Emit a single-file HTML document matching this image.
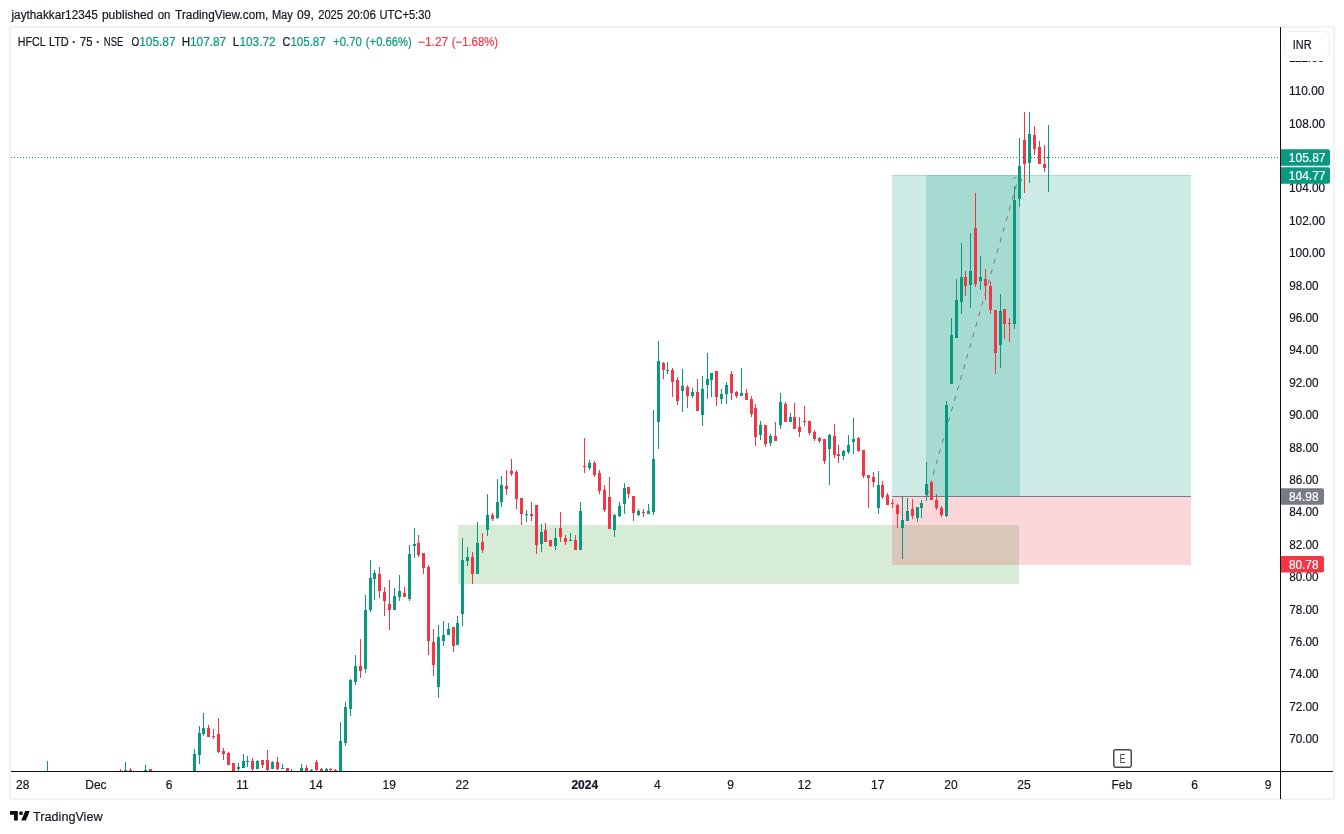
<!DOCTYPE html>
<html><head><meta charset="utf-8"><title>HFCL LTD chart</title>
<style>
html,body{margin:0;padding:0;background:#fff;width:1344px;height:834px;overflow:hidden}
svg{display:block;will-change:transform}
text{font-family:"Liberation Sans",Arial,sans-serif}
</style></head><body>
<svg width="1344" height="834" viewBox="0 0 1344 834">
<rect width="1344" height="834" fill="#fff"/>
<text x="11.48" y="18.8" font-size="12" fill="#131722" stroke="#131722" stroke-width="0.2" textLength="86.38" lengthAdjust="spacingAndGlyphs">jaythakkar12345</text><text x="101.90" y="18.8" font-size="12" fill="#131722" stroke="#131722" stroke-width="0.2" textLength="51.58" lengthAdjust="spacingAndGlyphs">published</text><text x="157.80" y="18.8" font-size="12" fill="#131722" stroke="#131722" stroke-width="0.2" textLength="12.64" lengthAdjust="spacingAndGlyphs">on</text><text x="175.10" y="18.8" font-size="12" fill="#131722" stroke="#131722" stroke-width="0.2" textLength="93.31" lengthAdjust="spacingAndGlyphs">TradingView.com,</text><text x="271.88" y="18.8" font-size="12" fill="#131722" stroke="#131722" stroke-width="0.2" textLength="20.92" lengthAdjust="spacingAndGlyphs">May</text><text x="297.10" y="18.8" font-size="12" fill="#131722" stroke="#131722" stroke-width="0.2" textLength="16.79" lengthAdjust="spacingAndGlyphs">09,</text><text x="318.20" y="18.8" font-size="12" fill="#131722" stroke="#131722" stroke-width="0.2" textLength="24.85" lengthAdjust="spacingAndGlyphs">2025</text><text x="346.90" y="18.8" font-size="12" fill="#131722" stroke="#131722" stroke-width="0.2" textLength="29.03" lengthAdjust="spacingAndGlyphs">20:06</text><text x="379.47" y="18.8" font-size="12" fill="#131722" stroke="#131722" stroke-width="0.2" textLength="51.16" lengthAdjust="spacingAndGlyphs">UTC+5:30</text>
<rect x="10" y="27" width="1324" height="772" fill="none" stroke="#f2f2f2" stroke-width="2"/>
<defs><clipPath id="pane"><rect x="11" y="28" width="1269" height="743"/></clipPath></defs>
<g clip-path="url(#pane)" shape-rendering="crispEdges">
<rect x="458" y="525" width="561" height="59" fill="rgb(76,175,80)" fill-opacity="0.23"/>
<rect x="892" y="175" width="299" height="321" fill="rgb(8,153,129)" fill-opacity="0.2"/>
<rect x="926" y="175" width="94" height="321" fill="rgb(8,153,129)" fill-opacity="0.2"/>
<rect x="892" y="496" width="299" height="68.5" fill="rgb(242,54,69)" fill-opacity="0.2"/>
<rect x="892" y="175" width="299" height="1" fill="rgb(8,153,129)" fill-opacity="0.2"/>
<rect x="892" y="496" width="299" height="1" fill="#787b86"/>
</g>
<g clip-path="url(#pane)"><line x1="927" y1="496" x2="1019.2" y2="175.5" stroke="#787b86" stroke-width="1" stroke-dasharray="5 6"/>
<path d="M1013.5 178.6 L1019.2 175.5 L1022.1 181.2" fill="none" stroke="#787b86" stroke-width="1" stroke-dasharray="3 2"/>
<line x1="11" y1="157.5" x2="1280" y2="157.5" stroke="#089981" stroke-width="1" stroke-dasharray="1 2"/>
</g>
<g clip-path="url(#pane)" shape-rendering="crispEdges">
<rect x="47" y="761" width="1" height="24" fill="#089981"/><rect x="46" y="772" width="3" height="8" fill="#089981"/>
<rect x="120" y="769" width="1" height="16" fill="#f23645"/><rect x="119" y="772" width="3" height="8" fill="#f23645"/>
<rect x="125" y="762" width="1" height="13" fill="#089981"/><rect x="124" y="770" width="3" height="5" fill="#089981"/>
<rect x="130" y="768" width="1" height="7" fill="#f23645"/><rect x="129" y="770" width="3" height="5" fill="#f23645"/>
<rect x="145" y="765" width="1" height="10" fill="#089981"/><rect x="144" y="770" width="3" height="5" fill="#089981"/>
<rect x="150" y="769" width="1" height="6" fill="#f23645"/><rect x="149" y="769" width="3" height="6" fill="#f23645"/>
<rect x="194" y="749" width="1" height="26" fill="#089981"/><rect x="193" y="754" width="3" height="21" fill="#089981"/>
<rect x="199" y="726" width="1" height="38" fill="#089981"/><rect x="198" y="733" width="3" height="22" fill="#089981"/>
<rect x="203" y="713" width="1" height="23" fill="#089981"/><rect x="202" y="728" width="3" height="6" fill="#089981"/>
<rect x="208" y="725" width="1" height="12" fill="#f23645"/><rect x="207" y="728" width="3" height="9" fill="#f23645"/>
<rect x="213" y="729" width="1" height="10" fill="#f23645"/><rect x="212" y="736" width="3" height="1" fill="#f23645"/>
<rect x="218" y="718" width="1" height="35" fill="#f23645"/><rect x="217" y="734" width="3" height="18" fill="#f23645"/>
<rect x="223" y="748" width="1" height="12" fill="#f23645"/><rect x="222" y="751" width="3" height="3" fill="#f23645"/>
<rect x="228" y="752" width="1" height="13" fill="#f23645"/><rect x="227" y="753" width="3" height="12" fill="#f23645"/>
<rect x="233" y="763" width="1" height="12" fill="#f23645"/><rect x="232" y="763" width="3" height="12" fill="#f23645"/>
<rect x="238" y="763" width="1" height="12" fill="#089981"/><rect x="237" y="767" width="3" height="2" fill="#089981"/>
<rect x="243" y="754" width="1" height="14" fill="#089981"/><rect x="242" y="761" width="3" height="7" fill="#089981"/>
<rect x="247" y="756" width="1" height="11" fill="#089981"/><rect x="246" y="761" width="3" height="1" fill="#089981"/>
<rect x="252" y="758" width="1" height="17" fill="#f23645"/><rect x="251" y="761" width="3" height="8" fill="#f23645"/>
<rect x="257" y="760" width="1" height="9" fill="#089981"/><rect x="256" y="761" width="3" height="8" fill="#089981"/>
<rect x="262" y="760" width="1" height="8" fill="#f23645"/><rect x="261" y="760" width="3" height="5" fill="#f23645"/>
<rect x="267" y="750" width="1" height="21" fill="#f23645"/><rect x="266" y="760" width="3" height="10" fill="#f23645"/>
<rect x="272" y="761" width="1" height="8" fill="#089981"/><rect x="271" y="762" width="3" height="7" fill="#089981"/>
<rect x="277" y="757" width="1" height="13" fill="#f23645"/><rect x="276" y="762" width="3" height="7" fill="#f23645"/>
<rect x="282" y="764" width="1" height="5" fill="#089981"/><rect x="281" y="768" width="3" height="1" fill="#089981"/>
<rect x="287" y="768" width="1" height="7" fill="#f23645"/><rect x="286" y="768" width="3" height="7" fill="#f23645"/>
<rect x="291" y="769" width="1" height="6" fill="#089981"/><rect x="290" y="772" width="3" height="3" fill="#089981"/>
<rect x="301" y="764" width="1" height="11" fill="#089981"/><rect x="300" y="768" width="3" height="7" fill="#089981"/>
<rect x="306" y="765" width="1" height="10" fill="#f23645"/><rect x="305" y="768" width="3" height="7" fill="#f23645"/>
<rect x="311" y="769" width="1" height="6" fill="#089981"/><rect x="310" y="770" width="3" height="5" fill="#089981"/>
<rect x="316" y="760" width="1" height="15" fill="#f23645"/><rect x="315" y="762" width="3" height="8" fill="#f23645"/>
<rect x="321" y="768" width="1" height="7" fill="#f23645"/><rect x="320" y="769" width="3" height="6" fill="#f23645"/>
<rect x="326" y="768" width="1" height="7" fill="#089981"/><rect x="325" y="769" width="3" height="6" fill="#089981"/>
<rect x="330" y="768" width="1" height="3" fill="#f23645"/><rect x="329" y="769" width="3" height="1" fill="#f23645"/>
<rect x="335" y="769" width="1" height="6" fill="#f23645"/><rect x="334" y="770" width="3" height="5" fill="#f23645"/>
<rect x="340" y="722" width="1" height="53" fill="#089981"/><rect x="339" y="741" width="3" height="34" fill="#089981"/>
<rect x="345" y="702" width="1" height="44" fill="#089981"/><rect x="344" y="707" width="3" height="36" fill="#089981"/>
<rect x="350" y="679" width="1" height="37" fill="#089981"/><rect x="349" y="680" width="3" height="29" fill="#089981"/>
<rect x="355" y="655" width="1" height="30" fill="#089981"/><rect x="354" y="666" width="3" height="16" fill="#089981"/>
<rect x="360" y="639" width="1" height="39" fill="#f23645"/><rect x="359" y="666" width="3" height="5" fill="#f23645"/>
<rect x="365" y="595" width="1" height="78" fill="#089981"/><rect x="364" y="610" width="3" height="59" fill="#089981"/>
<rect x="370" y="560" width="1" height="52" fill="#089981"/><rect x="369" y="578" width="3" height="32" fill="#089981"/>
<rect x="374" y="570" width="1" height="30" fill="#089981"/><rect x="373" y="573" width="3" height="6" fill="#089981"/>
<rect x="379" y="567" width="1" height="31" fill="#f23645"/><rect x="378" y="574" width="3" height="17" fill="#f23645"/>
<rect x="384" y="587" width="1" height="29" fill="#f23645"/><rect x="383" y="592" width="3" height="9" fill="#f23645"/>
<rect x="389" y="580" width="1" height="50" fill="#f23645"/><rect x="388" y="604" width="3" height="6" fill="#f23645"/>
<rect x="394" y="588" width="1" height="22" fill="#089981"/><rect x="393" y="596" width="3" height="14" fill="#089981"/>
<rect x="399" y="575" width="1" height="26" fill="#089981"/><rect x="398" y="591" width="3" height="6" fill="#089981"/>
<rect x="404" y="587" width="1" height="10" fill="#f23645"/><rect x="403" y="593" width="3" height="4" fill="#f23645"/>
<rect x="409" y="545" width="1" height="56" fill="#089981"/><rect x="408" y="554" width="3" height="45" fill="#089981"/>
<rect x="414" y="528" width="1" height="30" fill="#089981"/><rect x="413" y="544" width="3" height="2" fill="#089981"/>
<rect x="418" y="535" width="1" height="22" fill="#f23645"/><rect x="417" y="543" width="3" height="12" fill="#f23645"/>
<rect x="423" y="553" width="1" height="21" fill="#f23645"/><rect x="422" y="553" width="3" height="15" fill="#f23645"/>
<rect x="428" y="565" width="1" height="90" fill="#f23645"/><rect x="427" y="567" width="3" height="74" fill="#f23645"/>
<rect x="433" y="629" width="1" height="47" fill="#f23645"/><rect x="432" y="642" width="3" height="23" fill="#f23645"/>
<rect x="438" y="625" width="1" height="73" fill="#089981"/><rect x="437" y="637" width="3" height="50" fill="#089981"/>
<rect x="443" y="621" width="1" height="25" fill="#089981"/><rect x="442" y="635" width="3" height="6" fill="#089981"/>
<rect x="448" y="623" width="1" height="12" fill="#089981"/><rect x="447" y="629" width="3" height="6" fill="#089981"/>
<rect x="453" y="627" width="1" height="25" fill="#f23645"/><rect x="452" y="627" width="3" height="19" fill="#f23645"/>
<rect x="457" y="616" width="1" height="29" fill="#089981"/><rect x="456" y="623" width="3" height="22" fill="#089981"/>
<rect x="462" y="538" width="1" height="88" fill="#089981"/><rect x="461" y="560" width="3" height="54" fill="#089981"/>
<rect x="467" y="547" width="1" height="19" fill="#089981"/><rect x="466" y="557" width="3" height="4" fill="#089981"/>
<rect x="472" y="552" width="1" height="32" fill="#f23645"/><rect x="471" y="557" width="3" height="17" fill="#f23645"/>
<rect x="477" y="522" width="1" height="52" fill="#089981"/><rect x="476" y="543" width="3" height="31" fill="#089981"/>
<rect x="482" y="533" width="1" height="20" fill="#f23645"/><rect x="481" y="542" width="3" height="8" fill="#f23645"/>
<rect x="487" y="494" width="1" height="42" fill="#089981"/><rect x="486" y="515" width="3" height="15" fill="#089981"/>
<rect x="492" y="513" width="1" height="8" fill="#f23645"/><rect x="491" y="515" width="3" height="4" fill="#f23645"/>
<rect x="497" y="479" width="1" height="40" fill="#089981"/><rect x="496" y="502" width="3" height="16" fill="#089981"/>
<rect x="501" y="476" width="1" height="31" fill="#089981"/><rect x="500" y="485" width="3" height="17" fill="#089981"/>
<rect x="506" y="470" width="1" height="25" fill="#f23645"/><rect x="505" y="486" width="3" height="3" fill="#f23645"/>
<rect x="511" y="459" width="1" height="17" fill="#f23645"/><rect x="510" y="471" width="3" height="3" fill="#f23645"/>
<rect x="516" y="470" width="1" height="39" fill="#f23645"/><rect x="515" y="472" width="3" height="27" fill="#f23645"/>
<rect x="521" y="498" width="1" height="27" fill="#f23645"/><rect x="520" y="498" width="3" height="16" fill="#f23645"/>
<rect x="526" y="510" width="1" height="12" fill="#089981"/><rect x="525" y="514" width="3" height="1" fill="#089981"/>
<rect x="531" y="502" width="1" height="19" fill="#f23645"/><rect x="530" y="514" width="3" height="2" fill="#f23645"/>
<rect x="536" y="505" width="1" height="49" fill="#f23645"/><rect x="535" y="505" width="3" height="40" fill="#f23645"/>
<rect x="541" y="524" width="1" height="28" fill="#089981"/><rect x="540" y="532" width="3" height="12" fill="#089981"/>
<rect x="545" y="523" width="1" height="19" fill="#f23645"/><rect x="544" y="530" width="3" height="12" fill="#f23645"/>
<rect x="550" y="540" width="1" height="7" fill="#f23645"/><rect x="549" y="540" width="3" height="6" fill="#f23645"/>
<rect x="555" y="528" width="1" height="22" fill="#089981"/><rect x="554" y="538" width="3" height="8" fill="#089981"/>
<rect x="560" y="512" width="1" height="30" fill="#f23645"/><rect x="559" y="528" width="3" height="9" fill="#f23645"/>
<rect x="565" y="535" width="1" height="10" fill="#f23645"/><rect x="564" y="538" width="3" height="4" fill="#f23645"/>
<rect x="570" y="533" width="1" height="8" fill="#089981"/><rect x="569" y="540" width="3" height="1" fill="#089981"/>
<rect x="575" y="535" width="1" height="15" fill="#f23645"/><rect x="574" y="540" width="3" height="10" fill="#f23645"/>
<rect x="580" y="502" width="1" height="48" fill="#089981"/><rect x="579" y="511" width="3" height="39" fill="#089981"/>
<rect x="584" y="438" width="1" height="35" fill="#f23645"/><rect x="583" y="466" width="3" height="1" fill="#f23645"/>
<rect x="589" y="460" width="1" height="10" fill="#089981"/><rect x="588" y="463" width="3" height="5" fill="#089981"/>
<rect x="594" y="461" width="1" height="16" fill="#f23645"/><rect x="593" y="463" width="3" height="12" fill="#f23645"/>
<rect x="599" y="470" width="1" height="24" fill="#f23645"/><rect x="598" y="473" width="3" height="18" fill="#f23645"/>
<rect x="604" y="485" width="1" height="27" fill="#f23645"/><rect x="603" y="490" width="3" height="20" fill="#f23645"/>
<rect x="609" y="477" width="1" height="52" fill="#f23645"/><rect x="608" y="497" width="3" height="32" fill="#f23645"/>
<rect x="614" y="514" width="1" height="23" fill="#089981"/><rect x="613" y="515" width="3" height="15" fill="#089981"/>
<rect x="619" y="502" width="1" height="15" fill="#089981"/><rect x="618" y="506" width="3" height="10" fill="#089981"/>
<rect x="624" y="483" width="1" height="31" fill="#089981"/><rect x="623" y="488" width="3" height="16" fill="#089981"/>
<rect x="628" y="487" width="1" height="11" fill="#f23645"/><rect x="627" y="487" width="3" height="7" fill="#f23645"/>
<rect x="633" y="496" width="1" height="25" fill="#f23645"/><rect x="632" y="496" width="3" height="17" fill="#f23645"/>
<rect x="638" y="509" width="1" height="7" fill="#089981"/><rect x="637" y="511" width="3" height="4" fill="#089981"/>
<rect x="643" y="509" width="1" height="8" fill="#f23645"/><rect x="642" y="512" width="3" height="1" fill="#f23645"/>
<rect x="648" y="504" width="1" height="10" fill="#089981"/><rect x="647" y="511" width="3" height="3" fill="#089981"/>
<rect x="653" y="410" width="1" height="105" fill="#089981"/><rect x="652" y="459" width="3" height="53" fill="#089981"/>
<rect x="658" y="341" width="1" height="108" fill="#089981"/><rect x="657" y="361" width="3" height="61" fill="#089981"/>
<rect x="663" y="362" width="1" height="17" fill="#f23645"/><rect x="662" y="363" width="3" height="7" fill="#f23645"/>
<rect x="667" y="362" width="1" height="12" fill="#089981"/><rect x="666" y="370" width="3" height="1" fill="#089981"/>
<rect x="672" y="368" width="1" height="29" fill="#f23645"/><rect x="671" y="370" width="3" height="12" fill="#f23645"/>
<rect x="677" y="377" width="1" height="28" fill="#f23645"/><rect x="676" y="380" width="3" height="21" fill="#f23645"/>
<rect x="682" y="369" width="1" height="43" fill="#089981"/><rect x="681" y="386" width="3" height="5" fill="#089981"/>
<rect x="687" y="385" width="1" height="23" fill="#f23645"/><rect x="686" y="387" width="3" height="9" fill="#f23645"/>
<rect x="692" y="388" width="1" height="10" fill="#089981"/><rect x="691" y="392" width="3" height="4" fill="#089981"/>
<rect x="697" y="379" width="1" height="32" fill="#f23645"/><rect x="696" y="392" width="3" height="19" fill="#f23645"/>
<rect x="702" y="376" width="1" height="50" fill="#089981"/><rect x="701" y="389" width="3" height="26" fill="#089981"/>
<rect x="707" y="353" width="1" height="46" fill="#089981"/><rect x="706" y="379" width="3" height="6" fill="#089981"/>
<rect x="711" y="373" width="1" height="24" fill="#089981"/><rect x="710" y="373" width="3" height="7" fill="#089981"/>
<rect x="716" y="371" width="1" height="35" fill="#f23645"/><rect x="715" y="371" width="3" height="26" fill="#f23645"/>
<rect x="721" y="389" width="1" height="15" fill="#089981"/><rect x="720" y="394" width="3" height="5" fill="#089981"/>
<rect x="726" y="382" width="1" height="22" fill="#089981"/><rect x="725" y="385" width="3" height="9" fill="#089981"/>
<rect x="731" y="371" width="1" height="29" fill="#f23645"/><rect x="730" y="374" width="3" height="19" fill="#f23645"/>
<rect x="736" y="391" width="1" height="7" fill="#f23645"/><rect x="735" y="392" width="3" height="4" fill="#f23645"/>
<rect x="741" y="368" width="1" height="28" fill="#089981"/><rect x="740" y="393" width="3" height="3" fill="#089981"/>
<rect x="746" y="389" width="1" height="11" fill="#f23645"/><rect x="745" y="393" width="3" height="7" fill="#f23645"/>
<rect x="751" y="396" width="1" height="21" fill="#f23645"/><rect x="750" y="399" width="3" height="15" fill="#f23645"/>
<rect x="755" y="404" width="1" height="42" fill="#f23645"/><rect x="754" y="408" width="3" height="29" fill="#f23645"/>
<rect x="760" y="421" width="1" height="19" fill="#089981"/><rect x="759" y="425" width="3" height="10" fill="#089981"/>
<rect x="765" y="425" width="1" height="22" fill="#f23645"/><rect x="764" y="425" width="3" height="19" fill="#f23645"/>
<rect x="770" y="434" width="1" height="12" fill="#089981"/><rect x="769" y="436" width="3" height="7" fill="#089981"/>
<rect x="775" y="422" width="1" height="19" fill="#f23645"/><rect x="774" y="436" width="3" height="5" fill="#f23645"/>
<rect x="780" y="393" width="1" height="36" fill="#089981"/><rect x="779" y="402" width="3" height="23" fill="#089981"/>
<rect x="785" y="402" width="1" height="20" fill="#f23645"/><rect x="784" y="404" width="3" height="18" fill="#f23645"/>
<rect x="790" y="413" width="1" height="9" fill="#089981"/><rect x="789" y="417" width="3" height="5" fill="#089981"/>
<rect x="794" y="403" width="1" height="26" fill="#f23645"/><rect x="793" y="417" width="3" height="12" fill="#f23645"/>
<rect x="799" y="417" width="1" height="20" fill="#f23645"/><rect x="798" y="427" width="3" height="5" fill="#f23645"/>
<rect x="804" y="406" width="1" height="20" fill="#f23645"/><rect x="803" y="421" width="3" height="1" fill="#f23645"/>
<rect x="809" y="421" width="1" height="14" fill="#f23645"/><rect x="808" y="421" width="3" height="12" fill="#f23645"/>
<rect x="814" y="430" width="1" height="11" fill="#f23645"/><rect x="813" y="432" width="3" height="7" fill="#f23645"/>
<rect x="819" y="437" width="1" height="6" fill="#f23645"/><rect x="818" y="438" width="3" height="3" fill="#f23645"/>
<rect x="824" y="439" width="1" height="25" fill="#f23645"/><rect x="823" y="439" width="3" height="22" fill="#f23645"/>
<rect x="829" y="434" width="1" height="51" fill="#089981"/><rect x="828" y="435" width="3" height="14" fill="#089981"/>
<rect x="834" y="424" width="1" height="34" fill="#f23645"/><rect x="833" y="436" width="3" height="19" fill="#f23645"/>
<rect x="838" y="445" width="1" height="18" fill="#f23645"/><rect x="837" y="454" width="3" height="2" fill="#f23645"/>
<rect x="843" y="450" width="1" height="10" fill="#089981"/><rect x="842" y="451" width="3" height="5" fill="#089981"/>
<rect x="848" y="435" width="1" height="19" fill="#089981"/><rect x="847" y="445" width="3" height="7" fill="#089981"/>
<rect x="853" y="418" width="1" height="36" fill="#089981"/><rect x="852" y="439" width="3" height="3" fill="#089981"/>
<rect x="858" y="437" width="1" height="15" fill="#f23645"/><rect x="857" y="438" width="3" height="13" fill="#f23645"/>
<rect x="863" y="450" width="1" height="28" fill="#f23645"/><rect x="862" y="450" width="3" height="26" fill="#f23645"/>
<rect x="868" y="475" width="1" height="33" fill="#f23645"/><rect x="867" y="475" width="3" height="3" fill="#f23645"/>
<rect x="873" y="472" width="1" height="15" fill="#f23645"/><rect x="872" y="477" width="3" height="5" fill="#f23645"/>
<rect x="878" y="471" width="1" height="43" fill="#089981"/><rect x="877" y="485" width="3" height="23" fill="#089981"/>
<rect x="882" y="481" width="1" height="18" fill="#f23645"/><rect x="881" y="485" width="3" height="12" fill="#f23645"/>
<rect x="887" y="493" width="1" height="12" fill="#f23645"/><rect x="886" y="495" width="3" height="10" fill="#f23645"/>
<rect x="892" y="499" width="1" height="9" fill="#f23645"/><rect x="891" y="503" width="3" height="1" fill="#f23645"/>
<rect x="897" y="504" width="1" height="24" fill="#f23645"/><rect x="896" y="505" width="3" height="9" fill="#f23645"/>
<rect x="902" y="497" width="1" height="62" fill="#089981"/><rect x="901" y="520" width="3" height="8" fill="#089981"/>
<rect x="907" y="498" width="1" height="23" fill="#089981"/><rect x="906" y="511" width="3" height="10" fill="#089981"/>
<rect x="912" y="499" width="1" height="20" fill="#f23645"/><rect x="911" y="509" width="3" height="7" fill="#f23645"/>
<rect x="917" y="507" width="1" height="15" fill="#089981"/><rect x="916" y="507" width="3" height="11" fill="#089981"/>
<rect x="921" y="500" width="1" height="18" fill="#089981"/><rect x="920" y="503" width="3" height="5" fill="#089981"/>
<rect x="926" y="462" width="1" height="39" fill="#089981"/><rect x="925" y="484" width="3" height="11" fill="#089981"/>
<rect x="931" y="481" width="1" height="19" fill="#f23645"/><rect x="930" y="482" width="3" height="18" fill="#f23645"/>
<rect x="936" y="494" width="1" height="16" fill="#f23645"/><rect x="935" y="500" width="3" height="8" fill="#f23645"/>
<rect x="941" y="506" width="1" height="11" fill="#f23645"/><rect x="940" y="508" width="3" height="7" fill="#f23645"/>
<rect x="946" y="401" width="1" height="116" fill="#089981"/><rect x="945" y="405" width="3" height="111" fill="#089981"/>
<rect x="951" y="318" width="1" height="66" fill="#089981"/><rect x="950" y="335" width="3" height="49" fill="#089981"/>
<rect x="956" y="279" width="1" height="59" fill="#089981"/><rect x="955" y="300" width="3" height="38" fill="#089981"/>
<rect x="961" y="243" width="1" height="71" fill="#089981"/><rect x="960" y="277" width="3" height="25" fill="#089981"/>
<rect x="965" y="271" width="1" height="25" fill="#f23645"/><rect x="964" y="277" width="3" height="9" fill="#f23645"/>
<rect x="970" y="233" width="1" height="75" fill="#089981"/><rect x="969" y="271" width="3" height="14" fill="#089981"/>
<rect x="975" y="193" width="1" height="94" fill="#f23645"/><rect x="974" y="228" width="3" height="56" fill="#f23645"/>
<rect x="980" y="256" width="1" height="34" fill="#089981"/><rect x="979" y="277" width="3" height="4" fill="#089981"/>
<rect x="985" y="269" width="1" height="31" fill="#f23645"/><rect x="984" y="279" width="3" height="7" fill="#f23645"/>
<rect x="990" y="281" width="1" height="33" fill="#f23645"/><rect x="989" y="286" width="3" height="24" fill="#f23645"/>
<rect x="995" y="310" width="1" height="64" fill="#f23645"/><rect x="994" y="310" width="3" height="43" fill="#f23645"/>
<rect x="1000" y="294" width="1" height="74" fill="#089981"/><rect x="999" y="311" width="3" height="34" fill="#089981"/>
<rect x="1004" y="309" width="1" height="30" fill="#f23645"/><rect x="1003" y="309" width="3" height="15" fill="#f23645"/>
<rect x="1009" y="318" width="1" height="24" fill="#f23645"/><rect x="1008" y="323" width="3" height="1" fill="#f23645"/>
<rect x="1014" y="186" width="1" height="143" fill="#089981"/><rect x="1013" y="200" width="3" height="124" fill="#089981"/>
<rect x="1019" y="138" width="1" height="69" fill="#089981"/><rect x="1018" y="166" width="3" height="33" fill="#089981"/>
<rect x="1024" y="112" width="1" height="81" fill="#f23645"/><rect x="1023" y="140" width="3" height="24" fill="#f23645"/>
<rect x="1029" y="112" width="1" height="71" fill="#089981"/><rect x="1028" y="134" width="3" height="29" fill="#089981"/>
<rect x="1034" y="126" width="1" height="29" fill="#f23645"/><rect x="1033" y="135" width="3" height="14" fill="#f23645"/>
<rect x="1039" y="141" width="1" height="23" fill="#f23645"/><rect x="1038" y="147" width="3" height="17" fill="#f23645"/>
<rect x="1044" y="145" width="1" height="27" fill="#f23645"/><rect x="1043" y="164" width="3" height="4" fill="#f23645"/>
<rect x="1048" y="125" width="1" height="67" fill="#089981"/><rect x="1047" y="157" width="3" height="1" fill="#089981"/>
</g>
<rect x="1113.75" y="749.75" width="17.5" height="17.5" rx="2" fill="#fff" stroke="#4a4a4a" stroke-width="1.5"/>
<text x="1119.6" y="763" font-size="12" fill="#4a4a4a" textLength="6" lengthAdjust="spacingAndGlyphs">E</text>
<rect x="11" y="771" width="1322" height="1" fill="#111" shape-rendering="crispEdges"/>
<rect x="1280" y="27" width="1" height="772" fill="#111" shape-rendering="crispEdges"/>
<text x="1289.20" y="743.1" font-size="12" fill="#131722" stroke="#131722" stroke-width="0.2" textLength="29.43" lengthAdjust="spacingAndGlyphs">70.00</text><text x="1289.20" y="710.7" font-size="12" fill="#131722" stroke="#131722" stroke-width="0.2" textLength="29.43" lengthAdjust="spacingAndGlyphs">72.00</text><text x="1289.20" y="678.3" font-size="12" fill="#131722" stroke="#131722" stroke-width="0.2" textLength="29.43" lengthAdjust="spacingAndGlyphs">74.00</text><text x="1289.20" y="645.9" font-size="12" fill="#131722" stroke="#131722" stroke-width="0.2" textLength="29.43" lengthAdjust="spacingAndGlyphs">76.00</text><text x="1289.20" y="613.5" font-size="12" fill="#131722" stroke="#131722" stroke-width="0.2" textLength="29.43" lengthAdjust="spacingAndGlyphs">78.00</text><text x="1289.20" y="581.1" font-size="12" fill="#131722" stroke="#131722" stroke-width="0.2" textLength="29.43" lengthAdjust="spacingAndGlyphs">80.00</text><text x="1289.20" y="548.7" font-size="12" fill="#131722" stroke="#131722" stroke-width="0.2" textLength="29.43" lengthAdjust="spacingAndGlyphs">82.00</text><text x="1289.20" y="516.3" font-size="12" fill="#131722" stroke="#131722" stroke-width="0.2" textLength="29.43" lengthAdjust="spacingAndGlyphs">84.00</text><text x="1289.20" y="483.9" font-size="12" fill="#131722" stroke="#131722" stroke-width="0.2" textLength="29.43" lengthAdjust="spacingAndGlyphs">86.00</text><text x="1289.20" y="451.5" font-size="12" fill="#131722" stroke="#131722" stroke-width="0.2" textLength="29.43" lengthAdjust="spacingAndGlyphs">88.00</text><text x="1289.20" y="419.1" font-size="12" fill="#131722" stroke="#131722" stroke-width="0.2" textLength="29.43" lengthAdjust="spacingAndGlyphs">90.00</text><text x="1289.20" y="386.7" font-size="12" fill="#131722" stroke="#131722" stroke-width="0.2" textLength="29.43" lengthAdjust="spacingAndGlyphs">92.00</text><text x="1289.20" y="354.3" font-size="12" fill="#131722" stroke="#131722" stroke-width="0.2" textLength="29.43" lengthAdjust="spacingAndGlyphs">94.00</text><text x="1289.20" y="321.9" font-size="12" fill="#131722" stroke="#131722" stroke-width="0.2" textLength="29.43" lengthAdjust="spacingAndGlyphs">96.00</text><text x="1289.20" y="289.5" font-size="12" fill="#131722" stroke="#131722" stroke-width="0.2" textLength="29.43" lengthAdjust="spacingAndGlyphs">98.00</text><text x="1289.01" y="257.1" font-size="12" fill="#131722" stroke="#131722" stroke-width="0.2" textLength="36.18" lengthAdjust="spacingAndGlyphs">100.00</text><text x="1289.01" y="224.7" font-size="12" fill="#131722" stroke="#131722" stroke-width="0.2" textLength="36.18" lengthAdjust="spacingAndGlyphs">102.00</text><text x="1289.01" y="192.3" font-size="12" fill="#131722" stroke="#131722" stroke-width="0.2" textLength="36.18" lengthAdjust="spacingAndGlyphs">104.00</text><text x="1289.01" y="159.9" font-size="12" fill="#131722" stroke="#131722" stroke-width="0.2" textLength="36.18" lengthAdjust="spacingAndGlyphs">106.00</text><text x="1289.01" y="127.5" font-size="12" fill="#131722" stroke="#131722" stroke-width="0.2" textLength="36.18" lengthAdjust="spacingAndGlyphs">108.00</text><text x="1289.01" y="95.1" font-size="12" fill="#131722" stroke="#131722" stroke-width="0.2" textLength="35.30" lengthAdjust="spacingAndGlyphs">110.00</text><text x="1289.01" y="61.7" font-size="12" fill="#131722" stroke="#131722" stroke-width="0.2" textLength="35.30" lengthAdjust="spacingAndGlyphs">112.00</text><rect x="1281" y="28" width="52" height="33" fill="#fff"/>
<rect x="1284.5" y="31.5" width="45" height="25.5" rx="5" fill="#fff" stroke="#efefef" stroke-width="1"/>
<text x="1292.79" y="48.8" font-size="12" fill="#131722" stroke="#131722" stroke-width="0.2" textLength="18.82" lengthAdjust="spacingAndGlyphs">INR</text>
<path d="M1281 149.2 H1328 a2 2 0 0 1 2 2 V163.7 a2 2 0 0 1 -2 2 H1281 Z" fill="#089981"/><text x="1288.80" y="161.8" font-size="12" fill="#fff" stroke="#fff" stroke-width="0.2" textLength="36.70" lengthAdjust="spacingAndGlyphs">105.87</text>
<path d="M1281 167.2 H1328 a2 2 0 0 1 2 2 V181.7 a2 2 0 0 1 -2 2 H1281 Z" fill="#089981"/><text x="1288.80" y="179.8" font-size="12" fill="#fff" stroke="#fff" stroke-width="0.2" textLength="36.70" lengthAdjust="spacingAndGlyphs">104.77</text>
<path d="M1281 488.2 H1322 a2 2 0 0 1 2 2 V502.8 a2 2 0 0 1 -2 2 H1281 Z" fill="#787b86"/><text x="1288.90" y="500.8" font-size="12" fill="#fff" stroke="#fff" stroke-width="0.2" textLength="29.63" lengthAdjust="spacingAndGlyphs">84.98</text>
<path d="M1281 556 H1322 a2 2 0 0 1 2 2 V570.6 a2 2 0 0 1 -2 2 H1281 Z" fill="#f23645"/><text x="1288.90" y="568.6" font-size="12" fill="#fff" stroke="#fff" stroke-width="0.2" textLength="29.63" lengthAdjust="spacingAndGlyphs">80.78</text>
<text x="22.75" y="789" font-size="12" fill="#131722" stroke="#131722" stroke-width="0.2" text-anchor="middle">28</text>
<text x="95.9" y="789" font-size="12" fill="#131722" stroke="#131722" stroke-width="0.2" text-anchor="middle">Dec</text>
<text x="169.2" y="789" font-size="12" fill="#131722" stroke="#131722" stroke-width="0.2" text-anchor="middle">6</text>
<text x="242.5" y="789" font-size="12" fill="#131722" stroke="#131722" stroke-width="0.2" text-anchor="middle">11</text>
<text x="316" y="789" font-size="12" fill="#131722" stroke="#131722" stroke-width="0.2" text-anchor="middle">14</text>
<text x="389.25" y="789" font-size="12" fill="#131722" stroke="#131722" stroke-width="0.2" text-anchor="middle">19</text>
<text x="462.25" y="789" font-size="12" fill="#131722" stroke="#131722" stroke-width="0.2" text-anchor="middle">22</text>
<text x="584.75" y="789" font-size="12" fill="#131722" stroke="#131722" stroke-width="0.2" text-anchor="middle" font-weight="bold">2024</text>
<text x="657.25" y="789" font-size="12" fill="#131722" stroke="#131722" stroke-width="0.2" text-anchor="middle">4</text>
<text x="730.5" y="789" font-size="12" fill="#131722" stroke="#131722" stroke-width="0.2" text-anchor="middle">9</text>
<text x="804.5" y="789" font-size="12" fill="#131722" stroke="#131722" stroke-width="0.2" text-anchor="middle">12</text>
<text x="877.75" y="789" font-size="12" fill="#131722" stroke="#131722" stroke-width="0.2" text-anchor="middle">17</text>
<text x="951" y="789" font-size="12" fill="#131722" stroke="#131722" stroke-width="0.2" text-anchor="middle">20</text>
<text x="1024" y="789" font-size="12" fill="#131722" stroke="#131722" stroke-width="0.2" text-anchor="middle">25</text>
<text x="1121.75" y="789" font-size="12" fill="#131722" stroke="#131722" stroke-width="0.2" text-anchor="middle">Feb</text>
<text x="1194.5" y="789" font-size="12" fill="#131722" stroke="#131722" stroke-width="0.2" text-anchor="middle">6</text>
<text x="1268" y="789" font-size="12" fill="#131722" stroke="#131722" stroke-width="0.2" text-anchor="middle">9</text>
<text x="17.81" y="45.8" font-size="12" fill="#131722" stroke="#131722" stroke-width="0.2" textLength="27.90" lengthAdjust="spacingAndGlyphs">HFCL</text><text x="48.88" y="45.8" font-size="12" fill="#131722" stroke="#131722" stroke-width="0.2" textLength="19.93" lengthAdjust="spacingAndGlyphs">LTD</text><text x="80.00" y="45.8" font-size="12" fill="#131722" stroke="#131722" stroke-width="0.2" textLength="12.43" lengthAdjust="spacingAndGlyphs">75</text><text x="103.81" y="45.8" font-size="12" fill="#131722" stroke="#131722" stroke-width="0.2" textLength="19.54" lengthAdjust="spacingAndGlyphs">NSE</text><text x="131.40" y="45.8" font-size="12" fill="#131722" stroke="#131722" stroke-width="0.2" textLength="7.79" lengthAdjust="spacingAndGlyphs">O</text><text x="139.21" y="45.8" font-size="12" fill="#089981" stroke="#089981" stroke-width="0.2" textLength="36.39" lengthAdjust="spacingAndGlyphs">105.87</text><text x="181.73" y="45.8" font-size="12" fill="#131722" stroke="#131722" stroke-width="0.2" textLength="8.42" lengthAdjust="spacingAndGlyphs">H</text><text x="190.02" y="45.8" font-size="12" fill="#089981" stroke="#089981" stroke-width="0.2" textLength="36.07" lengthAdjust="spacingAndGlyphs">107.87</text><text x="232.83" y="45.8" font-size="12" fill="#131722" stroke="#131722" stroke-width="0.2" textLength="6.46" lengthAdjust="spacingAndGlyphs">L</text><text x="239.52" y="45.8" font-size="12" fill="#089981" stroke="#089981" stroke-width="0.2" textLength="35.97" lengthAdjust="spacingAndGlyphs">103.72</text><text x="282.40" y="45.8" font-size="12" fill="#131722" stroke="#131722" stroke-width="0.2" textLength="7.80" lengthAdjust="spacingAndGlyphs">C</text><text x="290.44" y="45.8" font-size="12" fill="#089981" stroke="#089981" stroke-width="0.2" textLength="35.13" lengthAdjust="spacingAndGlyphs">105.87</text><text x="333.00" y="45.8" font-size="12" fill="#089981" stroke="#089981" stroke-width="0.2" textLength="28.86" lengthAdjust="spacingAndGlyphs">+0.70</text><text x="365.87" y="45.8" font-size="12" fill="#089981" stroke="#089981" stroke-width="0.2" textLength="45.80" lengthAdjust="spacingAndGlyphs">(+0.66%)</text><text x="418.01" y="45.8" font-size="12" fill="#f23645" stroke="#f23645" stroke-width="0.2" textLength="30.17" lengthAdjust="spacingAndGlyphs">−1.27</text><text x="451.86" y="45.8" font-size="12" fill="#f23645" stroke="#f23645" stroke-width="0.2" textLength="46.11" lengthAdjust="spacingAndGlyphs">(−1.68%)</text><text x="73.9" y="45.8" font-size="12" font-weight="bold" fill="#131722" text-anchor="middle">·</text><text x="98" y="45.8" font-size="12" font-weight="bold" fill="#131722" text-anchor="middle">·</text>
<g fill="#0b0b0b"><path d="M10 811 H17.8 V820.6 H13.9 V814.8 H10 Z"/><circle cx="21" cy="813.2" r="1.9"/><path d="M25.2 811 H29.7 L25.9 820.6 H21.2 Z"/></g>
<text x="33.10" y="820.9" font-size="13" fill="#131722" stroke="#131722" stroke-width="0.2" textLength="69.46" lengthAdjust="spacingAndGlyphs">TradingView</text>
</svg>
</body></html>
